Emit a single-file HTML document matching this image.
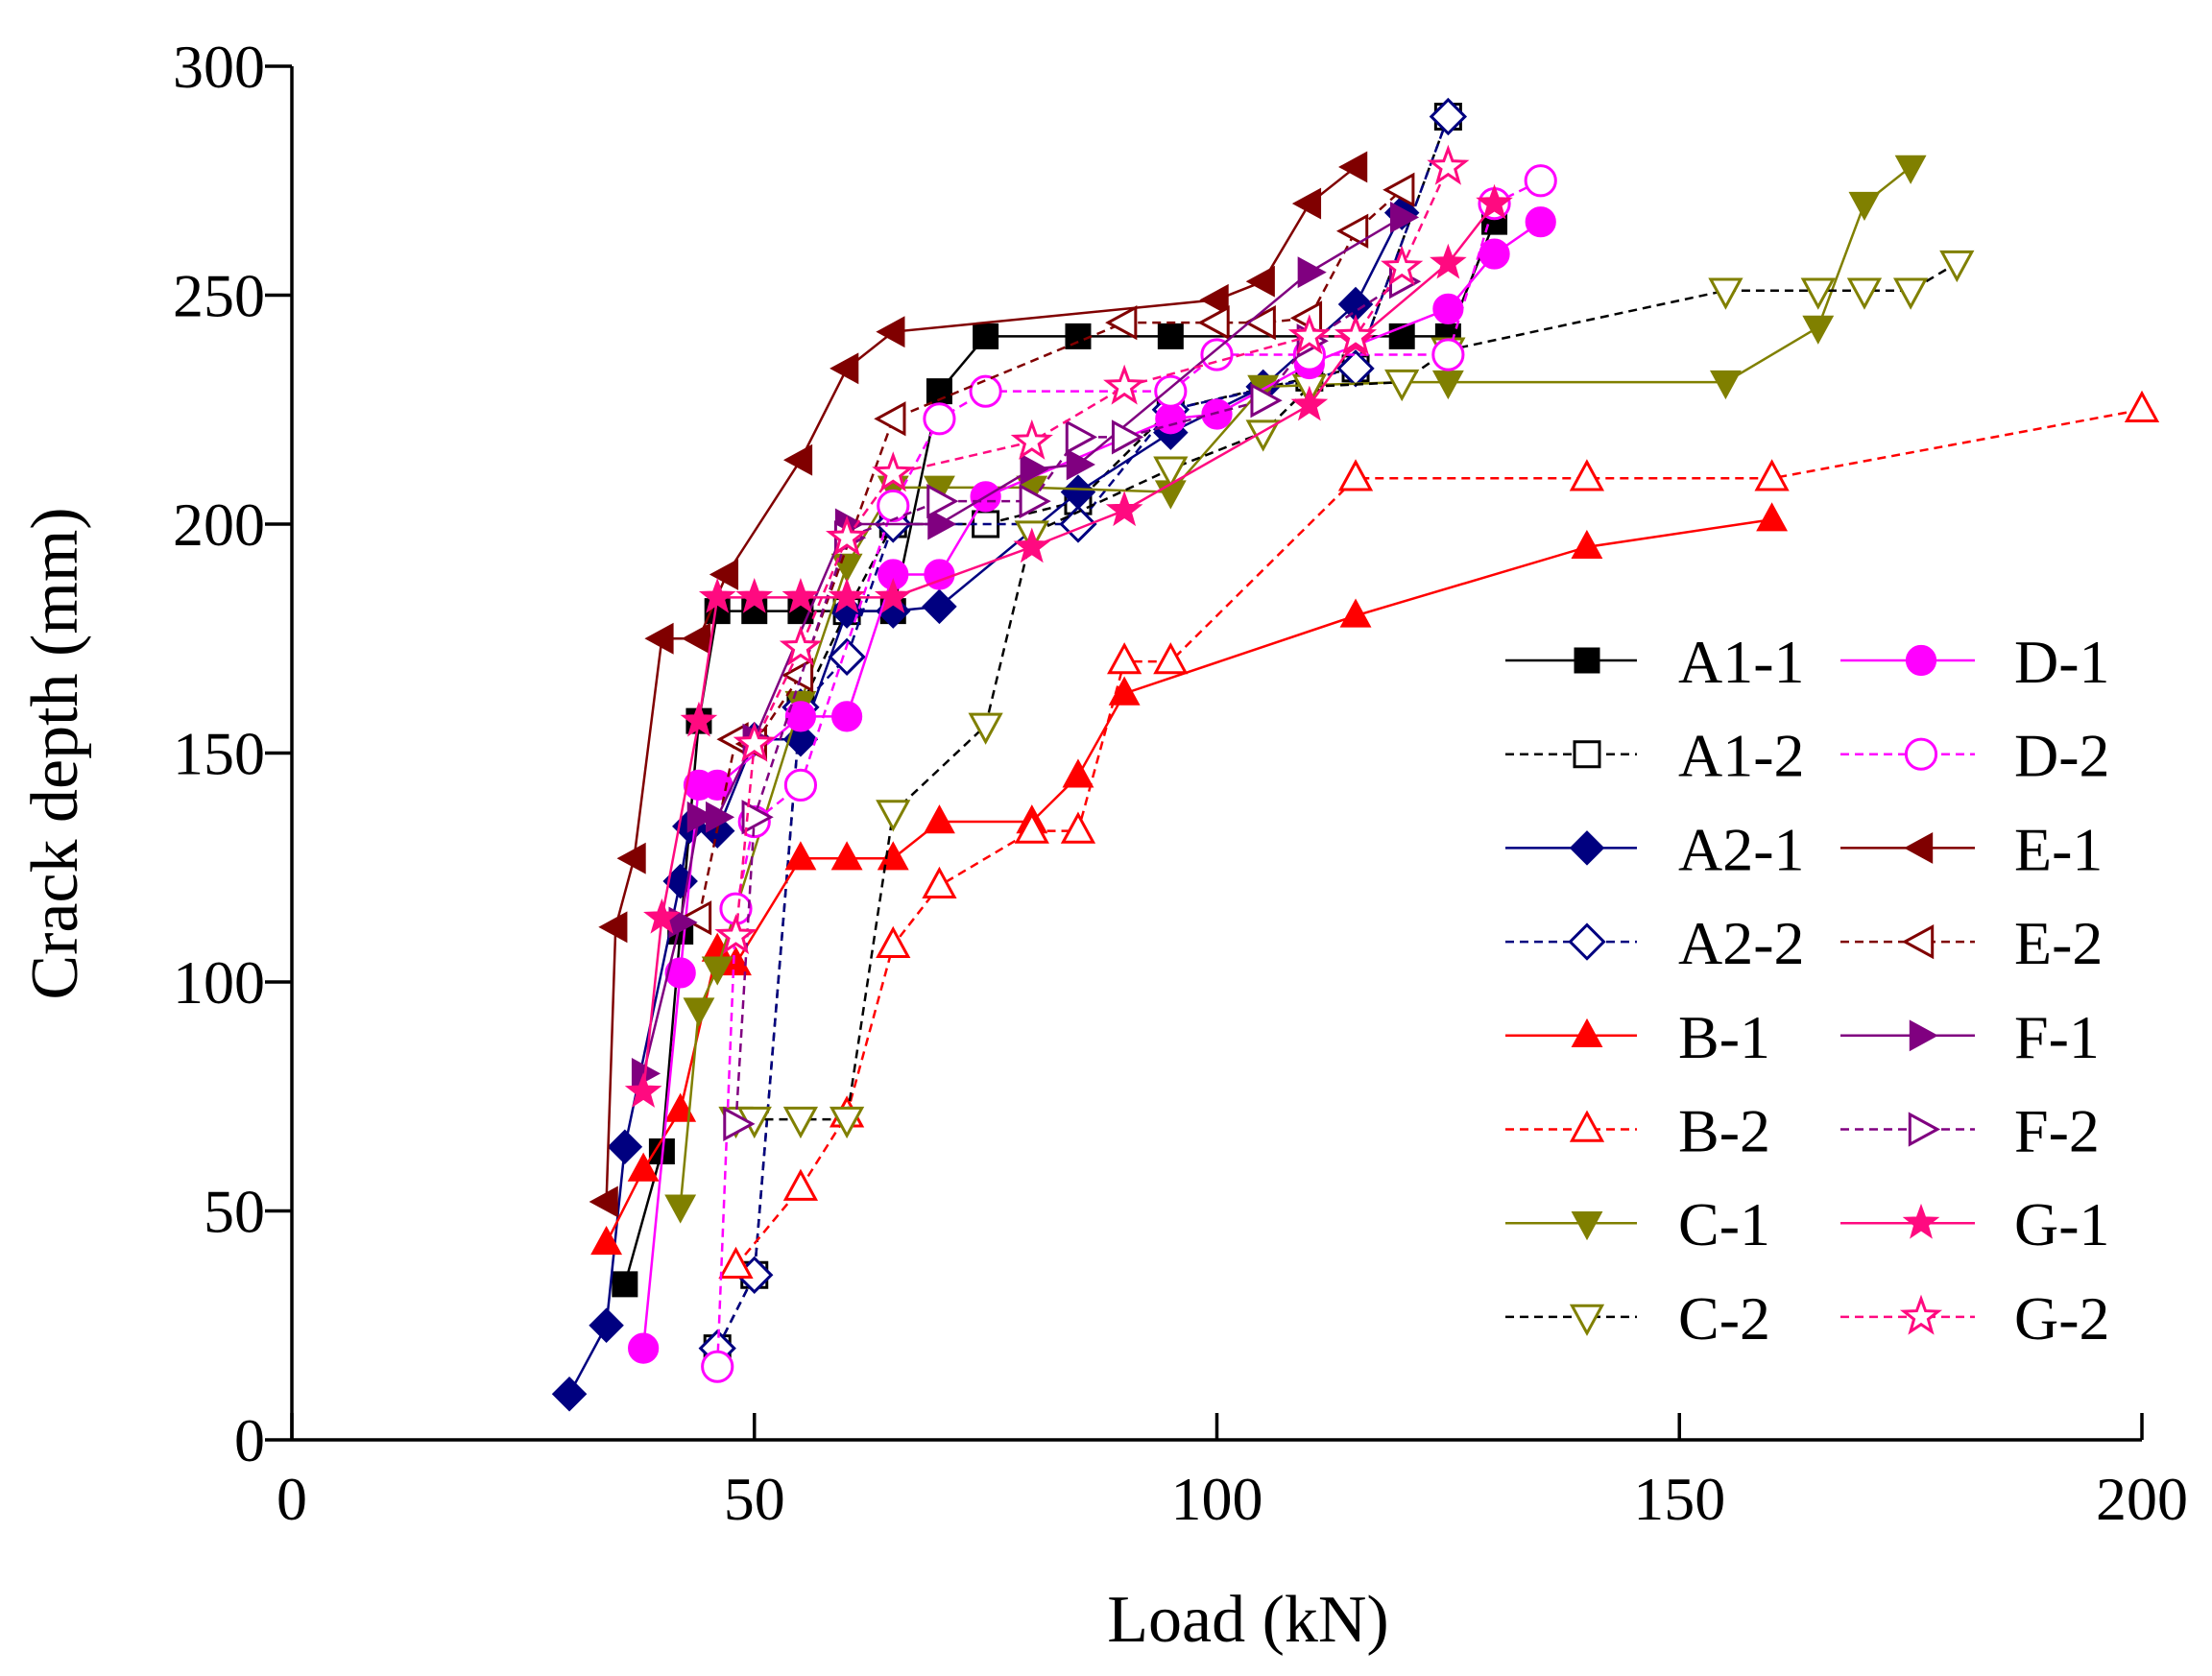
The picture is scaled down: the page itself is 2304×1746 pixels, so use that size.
<!DOCTYPE html>
<html><head><meta charset="utf-8"><style>
html,body{margin:0;padding:0;background:#fff;}
svg{display:block;font-family:"Liberation Serif",serif;}
</style></head><body>
<svg id="chart" width="2304" height="1746" viewBox="0 0 2304 1746" xmlns="http://www.w3.org/2000/svg">
<g id="axes"></g>
<g id="plot"></g>
<g id="legend"></g>
<text x="1300" y="1710" font-size="70" text-anchor="middle">Load (kN)</text>
<text transform="translate(80,785) rotate(-90)" font-size="70" text-anchor="middle">Crack depth (mm)</text>
</svg>
<script>
const xTicks=[0,50,100,150,200];
const yTicks=[0,50,100,150,200,250,300];
const seriesNames=["A1-1","A1-2","A2-1","A2-2","B-1","B-2","C-1","C-2","D-1","D-2","E-1","E-2","F-1","F-2","G-1","G-2"];
const A11=[[36,34],[40,63],[42,111],[44,157],[46,181],[50,181],[55,181],[60,181],[65,181],[70,229],[75,241],[85,241],[95,241],[120,241],[125,241],[130,266]];
const A12=[[46,20],[50,36],[55,160],[60,181],[65,200],[75,200],[85,205],[95,225],[110,232],[115,234],[125,289]];
const A21=[[30,10],[34,25],[36,64],[42,122],[43,134],[46,133],[50,153],[55,153],[60,181],[65,181],[70,182],[85,207],[95,220],[105,230],[115,248],[120,268]];
const A22=[[46,20],[50,36],[55,160],[60,171],[65,200],[85,200],[95,225],[115,234],[125,289]];
const B1=[[34,43],[38,59],[42,72],[46,107],[48,104],[55,127],[60,127],[65,127],[70,135],[80,135],[85,145],[90,163],[115,180],[140,195],[160,201]];
const B2=[[48,38],[55,55],[60,71],[65,108],[70,121],[80,133],[85,133],[90,170],[95,170],[115,210],[140,210],[160,210],[200,225]];
const C1=[[42,51],[44,94],[46,103],[55,161],[60,191],[65,208],[70,208],[80,208],[95,207],[105,230],[120,231],[125,231],[155,231],[165,243],[170,270],[175,278]];
const C2=[[48,70],[50,70],[55,70],[60,70],[65,137],[75,156],[80,198],[95,212],[105,220],[110,230],[120,231],[125,238],[155,251],[165,251],[170,251],[175,251],[180,257]];
const D1=[[38,20],[42,102],[44,143],[46,143],[55,158],[60,158],[65,189],[70,189],[75,206],[95,223],[100,224],[110,235],[125,247],[130,259],[135,266]];
const D2=[[46,16],[48,116],[50,135],[55,143],[65,204],[70,223],[75,229],[95,229],[100,237],[110,237],[125,237],[130,270],[135,275]];
const E1=[[34,52],[35,112],[37,127],[40,175],[44,175],[47,189],[55,214],[60,234],[65,242],[100,249],[105,253],[110,270],[115,278]];
const E2=[[44,114],[48,153],[50,152],[55,167],[65,223],[90,244],[100,244],[105,244],[110,245],[115,264],[120,273]];
const F1=[[38,80],[42,113],[44,136],[46,136],[50,153],[60,200],[70,200],[80,212],[85,213],[110,255],[120,267]];
const F2=[[48,69],[50,136],[60,197],[70,205],[80,205],[85,219],[90,219],[105,227],[110,240],[120,253]];
const G1=[[38,76],[40,114],[44,157],[46,184],[50,184],[55,184],[60,184],[65,184],[80,195],[90,203],[110,226],[115,240],[125,257],[130,270]];
const G2=[[48,110],[50,152],[55,173],[60,197],[65,211],[80,218],[90,230],[110,241],[115,241],[120,256],[125,278]];
const seriesData=[A11,A12,A21,A22,B1,B2,C1,C2,D1,D2,E1,E2,F1,F2,G1,G2];
const styles=[
["#000","#000","square",true,false],["#000","#000","square",false,true],
["#000080","#000080","diamond",true,false],["#000080","#000080","diamond",false,true],
["#ff0000","#ff0000","up",true,false],["#ff0000","#ff0000","up",false,true],
["#808000","#808000","down",true,false],["#000","#808000","down",false,true],
["#ff00ff","#ff00ff","circle",true,false],["#ff00ff","#ff00ff","circle",false,true],
["#800000","#800000","left",true,false],["#800000","#800000","left",false,true],
["#800080","#800080","right",true,false],["#800080","#800080","right",false,true],
["#ff0a80","#ff0a80","star",true,false],["#ff0a80","#ff0a80","star",false,true]];
const NS="http://www.w3.org/2000/svg";
const X0=304,X1=2231,Y0=1500,Y1=69;
const sx=v=>X0+(v-0)/200*(X1-X0);
const sy=v=>Y0-(v-0)/300*(Y0-Y1);
function mk(tag,attrs,parent){const e=document.createElementNS(NS,tag);for(const k in attrs)e.setAttribute(k,attrs[k]);parent.appendChild(e);return e;}
const axes=document.getElementById('axes');
let a=mk('line',{x1:X0,y1:Y0,x2:X1,y2:Y0,stroke:'#000','stroke-width':3.5},axes);


a=mk('line',{x1:X0,y1:Y0,x2:X0,y2:Y1,stroke:'#000','stroke-width':3.5},axes);


xTicks.forEach(t=>{
 const l=mk('line',{x1:sx(t),y1:Y0,x2:sx(t),y2:Y0-28,stroke:'#000','stroke-width':3.5},axes);
 
 
 const tx=mk('text',{x:sx(t),y:1583,'font-size':64,'text-anchor':'middle'},axes);tx.textContent=t;
 
 
});
yTicks.forEach(t=>{
 const l=mk('line',{x1:X0-28,y1:sy(t),x2:X0,y2:sy(t),stroke:'#000','stroke-width':3.5},axes);
 
 
 const tx=mk('text',{x:276,y:sy(t)+22,'font-size':64,'text-anchor':'end'},axes);tx.textContent=t;
 
 
});
function marker(type,cx,cy,col,filled,parent){
 const r=13;let e;
 const fill=filled?col:'#fff';const sw=filled?1:3;
 const poly=pts=>mk('polygon',{points:pts.map(p=>(cx+p[0])+','+(cy+p[1])).join(' '),fill:fill,stroke:col,'stroke-width':sw},parent);
 if(type==='square')e=poly([[-r,-r],[r,-r],[r,r],[-r,r]]);
 else if(type==='diamond')e=poly([[0,-r*1.35],[r*1.35,0],[0,r*1.35],[-r*1.35,0]]);
 else if(type==='up')e=poly([[0,-r*1.3],[r*1.2,r*0.9],[-r*1.2,r*0.9]]);
 else if(type==='down')e=poly([[0,r*1.3],[r*1.2,-r*0.9],[-r*1.2,-r*0.9]]);
 else if(type==='left')e=poly([[-r*1.3,0],[r*0.9,-r*1.2],[r*0.9,r*1.2]]);
 else if(type==='right')e=poly([[r*1.3,0],[-r*0.9,-r*1.2],[-r*0.9,r*1.2]]);
 else if(type==='circle')e=mk('ellipse',{cx:cx,cy:cy,rx:r*1.2,ry:r*1.2,fill:fill,stroke:col,'stroke-width':sw},parent);
 else{const pts=[];for(let i=0;i<10;i++){const ang=-Math.PI/2+i*Math.PI/5;const rr=i%2?r*0.6:r*1.45;pts.push([rr*Math.cos(ang),rr*Math.sin(ang)]);}e=poly(pts);}
 return e;
}
const plot=document.getElementById('plot');
seriesData.forEach((d,i)=>{
 const [lc,mc,type,filled,dashed]=styles[i];
 const g=mk('g',{},plot);
 
 
 const pl=mk('polyline',{points:d.map(p=>sx(p[0])+','+sy(p[1])).join(' '),fill:'none',stroke:lc,'stroke-width':2.5,'stroke-dasharray':dashed?'9,6':'none'},g);
 
 
 d.forEach(p=>{const m=marker(type,sx(p[0]),sy(p[1]),mc,filled,g);
  
  });
});
const leg=document.getElementById('legend');
seriesNames.forEach((n,i)=>{
 const [lc,mc,type,filled,dashed]=styles[i];
 const colIdx=i<8?0:1;const rIdx=i<8?i:i-8;
 const yy=688+rIdx*97.7;
 const lx0=colIdx?1917:1568, lx1=colIdx?2057:1705, mx=colIdx?2001:1653, tx=colIdx?2098:1748;
 const g=mk('g',{},leg);
 
 
 mk('line',{x1:lx0,y1:yy,x2:lx1,y2:yy,stroke:lc,'stroke-width':2.5,'stroke-dasharray':dashed?'9,6':'none'},g);
 marker(type,mx,yy,mc,filled,g);
 const t=mk('text',{x:tx,y:yy+23,'font-size':64},g);t.textContent=n;
});
</script>
</body></html>
